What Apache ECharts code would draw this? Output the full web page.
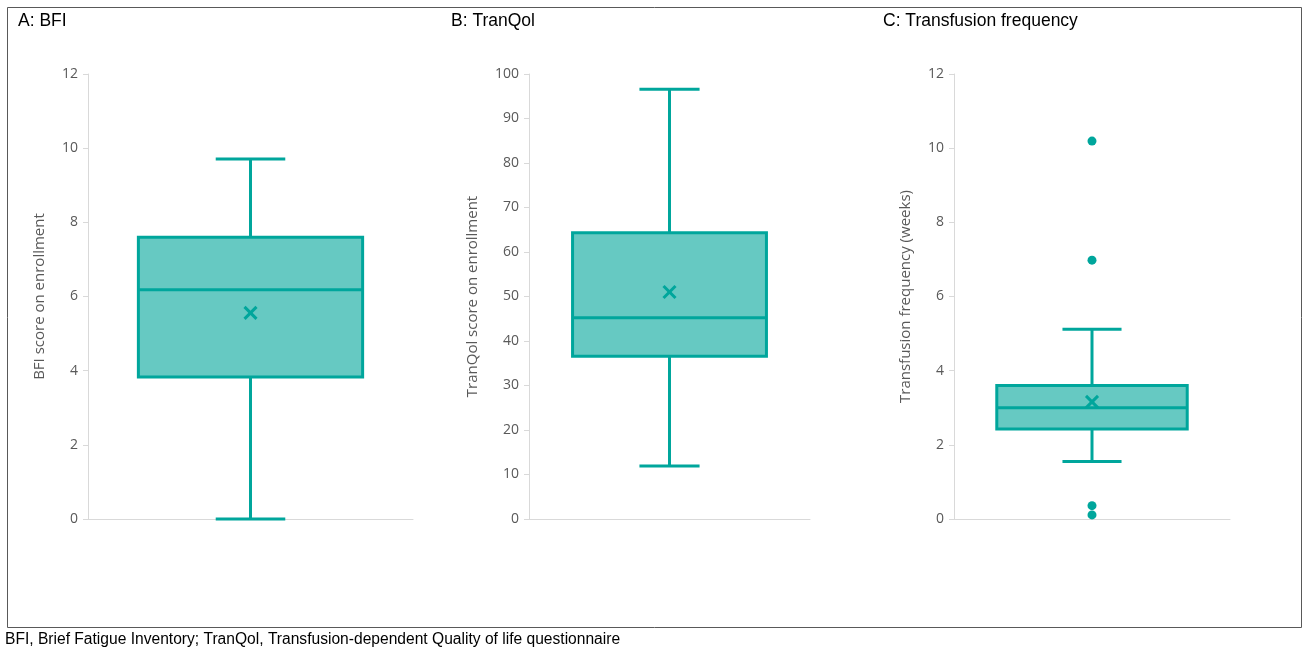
<!DOCTYPE html>
<html>
<head>
<meta charset="utf-8">
<script src="https://cdn.jsdelivr.net/npm/echarts@6/dist/echarts.min.js"></script>
<style>
  html, body { margin: 0; padding: 0; background: #fff; }
  #chart { width: 1306px; height: 648px; }
</style>
</head>
<body>
<div id="chart"></div>
<script>
// Panel titles and axis names
const panelTitles = ['A: BFI', 'B: TranQol', 'C: Transfusion frequency'];
const axisNames = ['BFI score on enrollment', 'TranQol score on enrollment', 'Transfusion frequency (weeks)'];

// Five-number summaries: [lower whisker, Q1, median, Q3, upper whisker]
const bfiBox = [0.0, 3.83, 6.18, 7.6, 9.71];
const tranqolBox = [11.9, 36.6, 45.2, 64.3, 96.6];
const transfusionBox = [1.55, 2.43, 3.0, 3.6, 5.12];

// Means
const bfiMean = 5.56;
const tranqolMean = 51.0;
const transfusionMean = 3.16;

// Outliers
const bfiOutliers = [];
const tranqolOutliers = [];
const transfusionOutliers = [10.19, 6.98, 0.36, 0.11];

// Axis ranges
const yMax = [12, 100, 12];
const yStep = [2, 10, 2];

const footnote = 'BFI, Brief Fatigue Inventory; TranQol, Transfusion-dependent Quality of life questionnaire';

const boxes = [bfiBox, tranqolBox, transfusionBox];
const means = [bfiMean, tranqolMean, transfusionMean];
const outliers = [bfiOutliers, tranqolOutliers, transfusionOutliers];

const STROKE = '#00A69C';
const FILL = '#66C9C2';
const AXIS_GREY = '#D9D9D9';
const TEXT_GREY = '#595959';

const grids = [
  { left: 88, top: 74, width: 325, height: 445 },
  { left: 529, top: 74, width: 281, height: 445 },
  { left: 954, top: 74, width: 276, height: 445 }
];
const nameGaps = [41, 49, 41];
const titleX = [18, 451, 883];

function renderBox(params, api) {
  const cat = api.value(0);
  const lo = api.value(1), q1 = api.value(2), med = api.value(3), q3 = api.value(4), hi = api.value(5), mean = api.value(6);
  const band = api.size([1, 0])[0];
  const half = band * 0.345;
  const cap = band * 0.107;
  const c = api.coord([cat, 0])[0];
  const y = v => api.coord([cat, v])[1];
  const ls = { stroke: STROKE, lineWidth: 3, fill: null };
  const m = 6;
  const ym = y(mean);
  return {
    type: 'group',
    children: [
      { type: 'line', shape: { x1: c, y1: y(q3), x2: c, y2: y(hi) }, style: ls },
      { type: 'line', shape: { x1: c, y1: y(q1), x2: c, y2: y(lo) }, style: ls },
      { type: 'line', shape: { x1: c - cap, y1: y(hi), x2: c + cap, y2: y(hi) }, style: ls },
      { type: 'line', shape: { x1: c - cap, y1: y(lo), x2: c + cap, y2: y(lo) }, style: ls },
      { type: 'rect', shape: { x: c - half, y: y(q3), width: 2 * half, height: y(q1) - y(q3) },
        style: { fill: FILL, stroke: STROKE, lineWidth: 3 } },
      { type: 'line', shape: { x1: c - half, y1: y(med), x2: c + half, y2: y(med) }, style: ls },
      { type: 'line', shape: { x1: c - m, y1: ym - m, x2: c + m, y2: ym + m }, style: ls },
      { type: 'line', shape: { x1: c - m, y1: ym + m, x2: c + m, y2: ym - m }, style: ls }
    ]
  };
}

const option = {
  animation: false,
  backgroundColor: '#fff',
  textStyle: { fontFamily: 'Open Sans' },
  grid: grids,
  xAxis: grids.map((g, i) => ({
    type: 'category', gridIndex: i, data: ['x'],
    axisLine: { show: true, lineStyle: { color: AXIS_GREY, width: 1 } },
    axisTick: { show: false }, axisLabel: { show: false }, splitLine: { show: false }
  })),
  yAxis: grids.map((g, i) => ({
    type: 'value', gridIndex: i, min: 0, max: yMax[i], interval: yStep[i],
    name: axisNames[i], nameLocation: 'middle', nameGap: nameGaps[i],
    nameTextStyle: { color: TEXT_GREY, fontSize: 15, fontFamily: 'Open Sans' },
    axisLine: { show: true, lineStyle: { color: AXIS_GREY, width: 1 } },
    axisTick: { show: true, length: 5, lineStyle: { color: AXIS_GREY } },
    axisLabel: { color: TEXT_GREY, fontSize: 14, margin: 10, fontFamily: 'Open Sans' },
    splitLine: { show: false }
  })),
  series: [].concat(
    boxes.map((b, i) => ({
      type: 'custom', xAxisIndex: i, yAxisIndex: i,
      renderItem: renderBox,
      data: [[0].concat(b, [means[i]])],
      z: 3
    })),
    outliers.map((o, i) => ({
      type: 'scatter', xAxisIndex: i, yAxisIndex: i,
      symbol: 'circle', symbolSize: 9,
      itemStyle: { color: STROKE, opacity: 1 },
      data: o.map(v => [0, v]),
      z: 4
    }))
  ),
  graphic: [
    { type: 'rect', shape: { x: 7.5, y: 7.5, width: 1294, height: 620 },
      style: { fill: null, stroke: '#595959', lineWidth: 1 }, silent: true }
  ].concat(panelTitles.map((t, i) => ({
    type: 'text', left: titleX[i], top: 12,
    style: { text: t, fill: '#000', font: '17.5px "Liberation Sans"' }
  }))).concat([{
    type: 'text', left: 5, top: 632,
    style: { text: footnote, fill: '#000', font: '15.6px "Liberation Sans"' }
  }])
};

const chart = echarts.init(document.getElementById('chart'), null, { renderer: 'canvas' });
chart.setOption(option);
</script>
</body>
</html>
